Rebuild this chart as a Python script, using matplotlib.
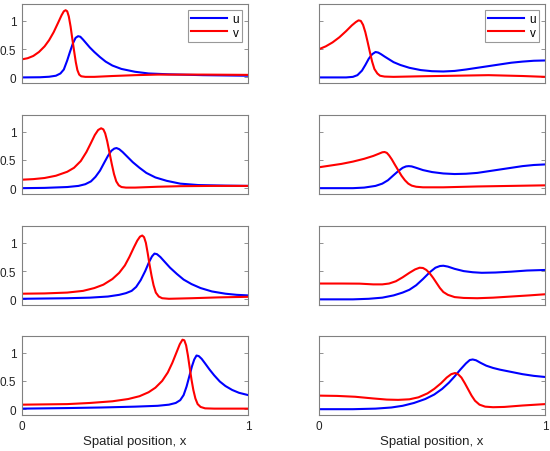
import matplotlib
matplotlib.use("Agg")
import matplotlib.pyplot as plt

plt.rcParams['font.family'] = ['Liberation Sans', 'DejaVu Sans']

# Panel data (row, column); x positions and values
u1x = [0, 0.08, 0.12, 0.15, 0.17, 0.185, 0.2, 0.212, 0.225, 0.237, 0.248, 0.258, 0.27, 0.285, 0.3, 0.32, 0.345, 0.37, 0.4, 0.44, 0.5, 0.56, 0.65, 0.8, 1.0]
u1y = [0, 0.003, 0.012, 0.03, 0.07, 0.14, 0.3, 0.45, 0.6, 0.7, 0.73, 0.72, 0.67, 0.6, 0.53, 0.45, 0.36, 0.28, 0.21, 0.15, 0.1, 0.07, 0.055, 0.04, 0.03]
v1x = [0, 0.025, 0.05, 0.075, 0.1, 0.12, 0.14, 0.16, 0.175, 0.185, 0.193, 0.2, 0.207, 0.215, 0.222, 0.23, 0.238, 0.245, 0.253, 0.262, 0.28, 0.32, 0.4, 0.5, 0.6, 0.8, 1.0]
v1y = [0.32, 0.34, 0.38, 0.45, 0.55, 0.66, 0.8, 0.97, 1.1, 1.17, 1.19, 1.17, 1.08, 0.9, 0.7, 0.48, 0.27, 0.13, 0.05, 0.02, 0.01, 0.01, 0.025, 0.04, 0.05, 0.05, 0.045]

u2x = [0, 0.12, 0.15, 0.17, 0.19, 0.205, 0.22, 0.235, 0.25, 0.262, 0.275, 0.29, 0.31, 0.33, 0.36, 0.4, 0.45, 0.5, 0.55, 0.6, 0.65, 0.7, 0.75, 0.8, 0.85, 0.9, 0.95, 1.0]
u2y = [0, 0.0, 0.01, 0.04, 0.12, 0.22, 0.33, 0.41, 0.45, 0.44, 0.41, 0.37, 0.32, 0.27, 0.22, 0.17, 0.13, 0.11, 0.105, 0.115, 0.14, 0.17, 0.2, 0.23, 0.26, 0.28, 0.295, 0.30]
v2x = [0, 0.03, 0.06, 0.09, 0.12, 0.145, 0.163, 0.175, 0.185, 0.195, 0.205, 0.215, 0.225, 0.235, 0.245, 0.258, 0.27, 0.29, 0.33, 0.45, 0.6, 0.75, 0.9, 1.0]
v2y = [0.5, 0.55, 0.62, 0.71, 0.82, 0.92, 0.98, 1.01, 1.0, 0.93, 0.8, 0.63, 0.45, 0.28, 0.15, 0.07, 0.03, 0.015, 0.01, 0.02, 0.03, 0.04, 0.025, 0.01]

u3x = [0, 0.1, 0.2, 0.25, 0.28, 0.305, 0.325, 0.345, 0.365, 0.38, 0.395, 0.408, 0.418, 0.43, 0.445, 0.465, 0.49, 0.52, 0.55, 0.59, 0.64, 0.7, 0.78, 0.9, 1.0]
u3y = [0, 0.005, 0.02, 0.04, 0.07, 0.12, 0.2, 0.31, 0.46, 0.57, 0.66, 0.7, 0.71, 0.69, 0.64, 0.56, 0.46, 0.36, 0.27, 0.19, 0.13, 0.08, 0.055, 0.045, 0.04]
v3x = [0, 0.05, 0.1, 0.15, 0.2, 0.23, 0.26, 0.285, 0.305, 0.322, 0.337, 0.35, 0.36, 0.368, 0.377, 0.387, 0.397, 0.407, 0.417, 0.428, 0.44, 0.46, 0.5, 0.6, 0.7, 0.85, 1.0]
v3y = [0.15, 0.16, 0.18, 0.22, 0.29, 0.36, 0.48, 0.64, 0.8, 0.94, 1.03, 1.06, 1.04, 0.97, 0.83, 0.63, 0.43, 0.25, 0.12, 0.05, 0.02, 0.01, 0.01, 0.025, 0.035, 0.04, 0.04]

u4x = [0, 0.15, 0.2, 0.25, 0.28, 0.305, 0.33, 0.35, 0.37, 0.385, 0.397, 0.41, 0.43, 0.46, 0.5, 0.55, 0.6, 0.65, 0.7, 0.75, 0.8, 0.85, 0.9, 0.95, 1.0]
u4y = [0, 0.0, 0.01, 0.04, 0.08, 0.14, 0.23, 0.3, 0.36, 0.385, 0.39, 0.385, 0.36, 0.32, 0.285, 0.26, 0.25, 0.255, 0.27, 0.3, 0.33, 0.36, 0.39, 0.41, 0.42]
v4x = [0, 0.05, 0.1, 0.15, 0.2, 0.24, 0.265, 0.28, 0.29, 0.3, 0.31, 0.322, 0.335, 0.35, 0.365, 0.38, 0.395, 0.41, 0.43, 0.46, 0.55, 0.7, 0.85, 1.0]
v4y = [0.37, 0.4, 0.43, 0.47, 0.52, 0.57, 0.61, 0.635, 0.64, 0.625, 0.58, 0.51, 0.42, 0.32, 0.22, 0.14, 0.08, 0.045, 0.025, 0.015, 0.015, 0.03, 0.04, 0.05]

u5x = [0, 0.1, 0.2, 0.3, 0.38, 0.43, 0.46, 0.485, 0.505, 0.525, 0.545, 0.562, 0.575, 0.586, 0.597, 0.612, 0.63, 0.655, 0.685, 0.715, 0.75, 0.79, 0.84, 0.9, 0.95, 1.0]
u5y = [0.01, 0.015, 0.02, 0.03, 0.05, 0.08, 0.11, 0.15, 0.22, 0.34, 0.5, 0.66, 0.76, 0.81, 0.8, 0.75, 0.67, 0.56, 0.45, 0.35, 0.27, 0.2, 0.14, 0.1, 0.08, 0.07]
v5x = [0, 0.1, 0.2, 0.27, 0.32, 0.36, 0.4, 0.43, 0.455, 0.475, 0.495, 0.51, 0.522, 0.532, 0.54, 0.548, 0.556, 0.564, 0.573, 0.582, 0.592, 0.605, 0.62, 0.65, 0.75, 0.87, 1.0]
v5y = [0.1, 0.105, 0.12, 0.15, 0.2, 0.26, 0.36, 0.47, 0.6, 0.75, 0.92, 1.04, 1.11, 1.13, 1.1, 1.0, 0.82, 0.62, 0.42, 0.25, 0.12, 0.05, 0.02, 0.01, 0.02, 0.035, 0.045]

u6x = [0, 0.15, 0.22, 0.28, 0.33, 0.37, 0.4, 0.43, 0.46, 0.49, 0.515, 0.535, 0.55, 0.57, 0.6, 0.64, 0.68, 0.72, 0.78, 0.85, 0.92, 1.0]
u6y = [0, 0.0, 0.01, 0.03, 0.07, 0.12, 0.17, 0.25, 0.36, 0.48, 0.56, 0.59, 0.595, 0.58, 0.54, 0.5, 0.48, 0.47, 0.475, 0.49, 0.51, 0.52]
v6x = [0, 0.1, 0.18, 0.24, 0.28, 0.31, 0.34, 0.37, 0.4, 0.425, 0.445, 0.46, 0.475, 0.49, 0.505, 0.52, 0.535, 0.55, 0.57, 0.6, 0.64, 0.7, 0.77, 0.85, 0.93, 1.0]
v6y = [0.28, 0.28, 0.278, 0.265, 0.265, 0.28, 0.32, 0.39, 0.47, 0.53, 0.56, 0.555, 0.52, 0.46, 0.38, 0.29, 0.2, 0.13, 0.08, 0.04, 0.025, 0.02, 0.03, 0.05, 0.07, 0.09]

u7x = [0, 0.2, 0.35, 0.5, 0.6, 0.65, 0.68, 0.7, 0.715, 0.728, 0.74, 0.752, 0.762, 0.772, 0.782, 0.795, 0.81, 0.83, 0.85, 0.875, 0.9, 0.93, 0.96, 1.0]
u7y = [0.01, 0.02, 0.03, 0.045, 0.06, 0.08, 0.11, 0.16, 0.25, 0.4, 0.58, 0.76, 0.88, 0.95, 0.94, 0.89, 0.81, 0.7, 0.6, 0.49, 0.41, 0.34, 0.29, 0.25]
v7x = [0, 0.1, 0.2, 0.3, 0.4, 0.47, 0.52, 0.56, 0.59, 0.62, 0.645, 0.665, 0.683, 0.698, 0.71, 0.718, 0.726, 0.734, 0.742, 0.75, 0.758, 0.767, 0.777, 0.79, 0.81, 0.85, 1.0]
v7y = [0.08, 0.085, 0.09, 0.11, 0.14, 0.18, 0.23, 0.3, 0.38, 0.5, 0.65, 0.82, 1.0, 1.15, 1.23, 1.22, 1.13, 0.95, 0.73, 0.52, 0.34, 0.19, 0.09, 0.04, 0.015, 0.01, 0.01]

u8x = [0, 0.15, 0.25, 0.32, 0.37, 0.42, 0.47, 0.51, 0.545, 0.575, 0.6, 0.625, 0.65, 0.667, 0.68, 0.695, 0.715, 0.74, 0.77, 0.8, 0.85, 0.9, 0.95, 1.0]
u8y = [0, 0.0, 0.01, 0.03, 0.06, 0.11, 0.18, 0.26, 0.36, 0.47, 0.58, 0.7, 0.81, 0.87, 0.88, 0.865, 0.82, 0.77, 0.73, 0.7, 0.66, 0.62, 0.59, 0.57]
v8x = [0, 0.08, 0.16, 0.24, 0.3, 0.35, 0.4, 0.44, 0.48, 0.51, 0.54, 0.565, 0.585, 0.602, 0.615, 0.63, 0.645, 0.66, 0.675, 0.69, 0.71, 0.735, 0.77, 0.82, 0.9, 1.0]
v8y = [0.24, 0.235, 0.22, 0.19, 0.17, 0.165, 0.175, 0.21, 0.28, 0.36, 0.46, 0.56, 0.62, 0.64, 0.62, 0.56, 0.46, 0.35, 0.24, 0.15, 0.08, 0.045, 0.035, 0.04, 0.065, 0.09]

panels = [
    [(u1x, u1y, v1x, v1y), (u2x, u2y, v2x, v2y)],
    [(u3x, u3y, v3x, v3y), (u4x, u4y, v4x, v4y)],
    [(u5x, u5y, v5x, v5y), (u6x, u6y, v6x, v6y)],
    [(u7x, u7y, v7x, v7y), (u8x, u8y, v8x, v8y)],
]
yticks = [0, 0.5, 1]
yticklabels = ['0', '0.5', '1']
xticks = [0, 1]
xticklabels = ['0', '1']
series_names = ['u', 'v']
xlabel = 'Spatial position, x'

fig = plt.figure(figsize=(5.5, 4.52), dpi=100)
lefts = [0.040, 0.580]
width = 0.411
bottoms = [0.814, 0.569, 0.323, 0.080]
height = 0.175
frame_col = '#808080'

for r in range(4):
    for c in range(2):
        ax = fig.add_axes([lefts[c], bottoms[r], width, height])
        ux, uy, vx, vy = panels[r][c]
        ax.plot(ux, uy, color='#0000ff', lw=1.5, label=series_names[0])
        ax.plot(vx, vy, color='#ff0000', lw=1.5, label=series_names[1])
        ax.set_xlim(0, 1)
        ax.set_ylim(-0.1, 1.3)
        ax.set_yticks(yticks)
        ax.set_xticks(xticks)
        ax.tick_params(direction='in', length=3, width=0.6, colors=frame_col,
                       labelcolor='#222222', labelsize=8.5, right=True, top=False,
                       pad=4)
        if c == 0:
            ax.set_yticklabels(yticklabels)
        else:
            ax.set_yticklabels([])
        if r == 3:
            ax.set_xticklabels(xticklabels)
            ax.set_xlabel(xlabel, fontsize=9.5, color='#222222', labelpad=2)
        else:
            ax.set_xticklabels([])
        for s in ax.spines.values():
            s.set_color(frame_col)
            s.set_linewidth(0.8)
        if r == 0:
            leg = ax.legend(loc='upper right', fontsize=8.5, handlelength=3.0,
                            frameon=True, fancybox=False, borderpad=0.25,
                            labelspacing=0.15, handletextpad=0.5,
                            borderaxespad=0.5)
            leg.get_frame().set_edgecolor(frame_col)
            leg.get_frame().set_linewidth(0.8)

fig.savefig('out.png', dpi=100)
